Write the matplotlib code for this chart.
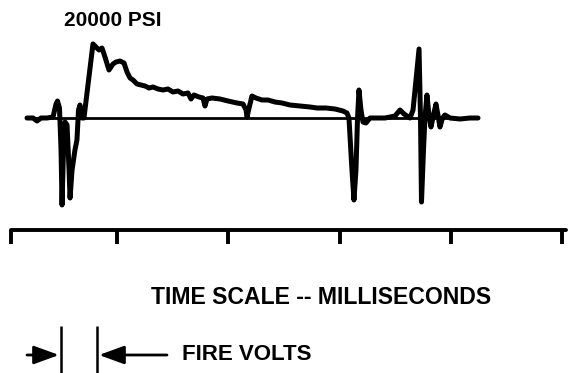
import matplotlib
matplotlib.use("Agg")
import matplotlib.pyplot as plt

# Pressure trace: time in ms, pressure in psi
time_ms = [0.191, 0.245, 0.281, 0.317, 0.371, 0.425, 0.452, 0.465, 0.483, 0.497,
           0.506, 0.519, 0.533, 0.551, 0.569, 0.578, 0.596, 0.622, 0.640, 0.654,
           0.667, 0.685, 0.703, 0.784, 0.811, 0.838, 0.865, 0.892, 0.928, 0.964,
           0.991, 1.027, 1.063, 1.090, 1.117, 1.144, 1.180, 1.216, 1.252, 1.288,
           1.324, 1.369, 1.413, 1.458, 1.503, 1.548, 1.593, 1.638, 1.665, 1.692,
           1.737, 1.773, 1.791, 1.809, 1.854, 1.926, 1.998, 2.079, 2.133, 2.160,
           2.169, 2.187, 2.213, 2.249, 2.303, 2.357, 2.420, 2.483, 2.555, 2.645,
           2.735, 2.798, 2.879, 2.960, 3.031, 3.067, 3.085, 3.112, 3.130, 3.148,
           3.162, 3.175, 3.193, 3.211, 3.238, 3.274, 3.409, 3.499, 3.544, 3.580,
           3.634, 3.661, 3.715, 3.728, 3.737, 3.755, 3.768, 3.786, 3.804, 3.822,
           3.845, 3.867, 3.885, 3.903, 3.926, 3.948, 3.993, 4.083, 4.173, 4.245]
pressure_psi = [0, 0, -810, 0, 0, 270, 3780, 4590, 2700, -8640,
                -23490, -8640, -1080, -1890, -14040, -21600, -14040, -8640, -5940, 2160,
                3510, 0, 0, 20000, 19170, 18360, 18900, 16470, 12960, 14580,
                15120, 15390, 14850, 12420, 10800, 10260, 9180, 8910, 8640, 8100,
                8370, 7830, 7560, 7830, 7020, 7290, 6480, 6750, 5130, 6210,
                5670, 5400, 3240, 5130, 5400, 5130, 4590, 4050, 3780, 2160,
                270, 2700, 5940, 5400, 4860, 4860, 4320, 4050, 3510, 3240,
                2970, 2700, 2700, 2430, 1890, 1350, 0, -14040, -22140, -14040,
                0, 7560, 2160, -1080, -1350, 0, 0, 540, 2160, 1080,
                0, 2160, 18630, 0, -22680, -8640, 0, 6210, 810, -2430,
                810, 3780, 810, -2430, 0, 810, 0, -270, 0, 0]

# Time scale ruler
scale_start_ms = 0.05
scale_end_ms = 5.04
scale_ticks_ms = [1, 2, 3, 4, 5]

peak_label = "20000 PSI"
scale_label = "TIME SCALE -- MILLISECONDS"
fire_label = "FIRE VOLTS"

W, H = 570, 373
fig = plt.figure(figsize=(W / 100, H / 100), dpi=100)
fig.patch.set_facecolor("white")

xlim = (-0.0517, 5.0719)
ink = "black"
font = dict(family=["Liberation Sans", "DejaVu Sans"], weight="bold", color=ink)

# Trace axes
ax = fig.add_axes([0, 0, 1, 1])
ax.set_xlim(*xlim)
ax.set_ylim(-68850, 31860)
ax.axis("off")
ax.plot([time_ms[0], time_ms[-1]], [0, 0], color=ink, lw=2.0,
        solid_capstyle="round")
ax.plot(time_ms, pressure_psi, color=ink, lw=3.6,
        solid_joinstyle="round", solid_capstyle="round")

# Ruler axes: only the bottom spine with downward ticks
rax = fig.add_axes([0, (H - 230) / H, 1, 0.0001])
rax.set_xlim(*xlim)
rax.set_facecolor("none")
for side in ("top", "left", "right"):
    rax.spines[side].set_visible(False)
rax.spines["bottom"].set_linewidth(2.8)
rax.spines["bottom"].set_bounds(scale_start_ms, scale_end_ms)
rax.spines["bottom"].set_capstyle("round")
rax.set_yticks([])
rax.set_xticks(scale_ticks_ms)
rax.set_xticks([scale_start_ms], minor=True)
rax.tick_params(axis="x", which="both", direction="out", length=10, width=2.8,
                labelbottom=False, color=ink)

fig.text(113 / W, 1 - 20.5 / H, peak_label, ha="center", va="center",
         fontsize=15, **font)
fig.text(321.5 / W, 1 - 297 / H, scale_label, ha="center", va="center",
         fontsize=16.6, **font)
fig.text(182 / W, 1 - 355 / H, fire_label, ha="left", va="center",
         fontsize=16, **font)

# Fire-volts interval marker
oax = fig.add_axes([0, 0, 1, 1])
oax.set_xlim(0, W)
oax.set_ylim(H, 0)
oax.axis("off")
oax.vlines([61, 97], 326, 373, color=ink, lw=1.8)
arrow = dict(arrowstyle="-|>,head_length=1.1,head_width=0.4", color=ink,
             lw=2.0, shrinkA=0, shrinkB=0, mutation_scale=14)
oax.annotate("", xy=(59, 355), xytext=(27, 355), arrowprops=arrow)
oax.annotate("", xy=(99, 355), xytext=(167, 355), arrowprops=arrow)

fig.savefig("out.png", dpi=100, facecolor="white")
